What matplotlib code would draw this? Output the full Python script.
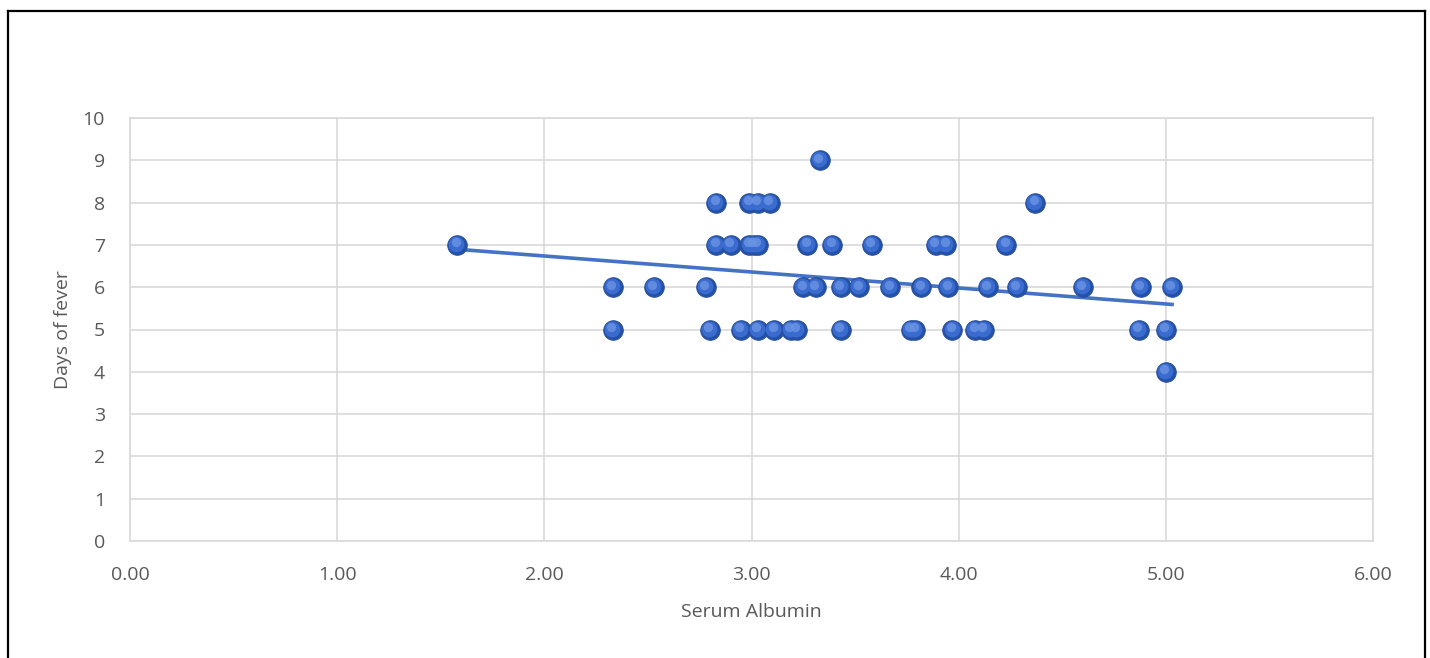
import numpy as np
import matplotlib.pyplot as plt
from matplotlib.lines import Line2D

# Serum albumin vs days of fever, grouped by y value
alb_d4 = [5.00]
alb_d5 = [2.33, 2.80, 2.95, 3.03, 3.11, 3.19, 3.22, 3.43, 3.77, 3.79,
          3.97, 4.08, 4.12, 4.87, 5.00]
alb_d6 = [2.33, 2.53, 2.78, 3.25, 3.31, 3.43, 3.52, 3.67, 3.82, 3.95,
          4.14, 4.28, 4.60, 4.88, 5.03]
alb_d7 = [1.58, 2.83, 2.90, 2.99, 3.01, 3.03, 3.27, 3.39, 3.58, 3.89,
          3.94, 4.23]
alb_d8 = [2.83, 2.99, 3.03, 3.09, 4.37]
alb_d9 = [3.33]

groups = {4: alb_d4, 5: alb_d5, 6: alb_d6, 7: alb_d7, 8: alb_d8, 9: alb_d9}
albumin = np.concatenate([groups[k] for k in groups])
fever = np.concatenate([[k] * len(groups[k]) for k in groups])

x_ticks = [0, 1, 2, 3, 4, 5, 6]
y_ticks = list(range(11))

plt.rcParams['font.family'] = ['Open Sans', 'DejaVu Sans']

fig = plt.figure(figsize=(14.3, 6.58), dpi=100)
ax = fig.add_axes([130 / 1430, 1 - 541 / 658, 1243 / 1430, 423 / 658])

# scatter with a simple "sphere" look: dark rim, body, soft highlight
ax.scatter(albumin, fever, s=200, color="#2451a8", edgecolors="#2a4f96",
           linewidths=0.6, zorder=3)
ax.scatter(albumin - 0.004, fever + 0.02, s=130, color="#3a6cd0",
           linewidths=0, zorder=4)
ax.scatter(albumin - 0.008, fever + 0.06, s=45, color="#6a93e2",
           linewidths=0, alpha=0.8, zorder=5)

# linear trendline over the data range
m, c = np.polyfit(albumin, fever, 1)
xs = np.array([albumin.min(), albumin.max()])
ax.plot(xs, m * xs + c, color="#4472c4", lw=2.6, zorder=2)

ax.set_xlim(0, 6)
ax.set_ylim(0, 10)
ax.set_xticks(x_ticks)
ax.set_xticklabels([f"{v:.2f}" for v in x_ticks])
ax.set_yticks(y_ticks)
ax.grid(True, color="#d9d9d9", lw=1.2)
ax.set_axisbelow(True)
for s in ax.spines.values():
    s.set_color("#d9d9d9")
    s.set_linewidth(1.2)
ax.tick_params(length=0, labelsize=14, colors="#595959")
ax.tick_params(axis="x", pad=18)
ax.tick_params(axis="y", pad=18)

ax.set_xlabel("Serum Albumin", fontsize=14, color="#595959", labelpad=14)
ax.set_ylabel("Days of fever", fontsize=14, color="#595959", labelpad=8)

# outer black frame (bottom cut off in the reference)
W, H = 1430, 658
frame = [((7.5, 658), (7.5, 10.5)), ((7.5, 10.5), (1425, 10.5)),
         ((1425, 10.5), (1425, 658))]
for (x0, y0), (x1, y1) in frame:
    fig.add_artist(Line2D([x0 / W, x1 / W], [1 - y0 / H, 1 - y1 / H],
                          color="black", lw=1.6, transform=fig.transFigure))

fig.savefig("out.png", dpi=100)
